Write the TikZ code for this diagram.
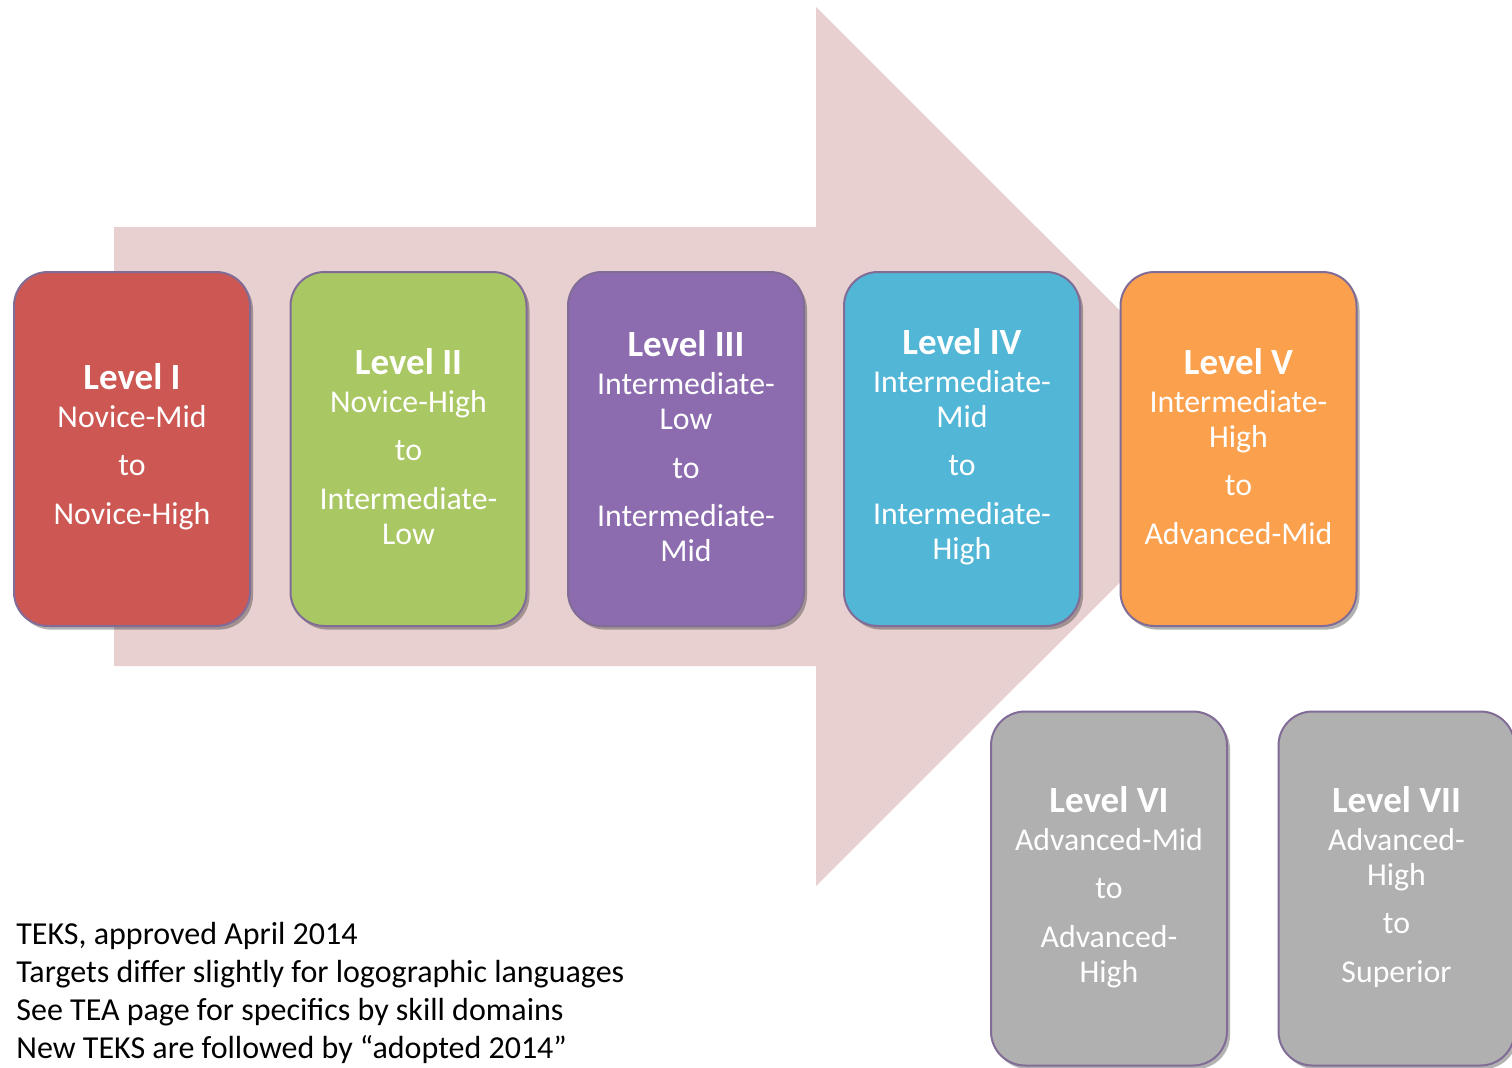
\documentclass[tikz,border=0pt]{standalone}
\usepackage{fontspec}
\setmainfont{Carlito}
\usetikzlibrary{shadows}
\definecolor{arrowc}{RGB}{232,208,208}
\definecolor{cred}{RGB}{205,87,83}
\definecolor{cgreen}{RGB}{169,199,99}
\definecolor{cpurple}{RGB}{140,108,175}
\definecolor{ccyan}{RGB}{82,182,214}
\definecolor{corange}{RGB}{251,160,77}
\definecolor{cgrey}{RGB}{176,176,176}
\definecolor{boxline}{RGB}{128,108,150}
\newcommand\lvltitle[1]{{\fontsize{18.5}{17.5}\selectfont\bfseries #1}}
\begin{document}
\begin{tikzpicture}[x=0.5pt,y=-0.5pt,
  lvlbox/.style={draw=boxline, line width=1pt, rounded corners=17pt,
    minimum width=118pt, minimum height=177pt, inner sep=0pt,
    drop shadow={shadow xshift=1.5pt, shadow yshift=-1.8pt, opacity=0.3, fill=black}},
  lvltext/.style={inner sep=0pt, align=center, text=white,
    font=\fontsize{15.9}{17.5}\selectfont},
  note/.style={anchor=base west, inner sep=0pt, font=\fontsize{16}{19}\selectfont, text=black}
]
\useasboundingbox (0,0) rectangle (1512,1067);
\clip (0,0) rectangle (1512,1067);
\fill[arrowc] (114,227) -- (816,227) -- (816,7) -- (1256,446.5) -- (816,886) -- (816,666) -- (114,666) -- cycle;
\node[lvlbox, fill=cred] (l1) at (132,449) {};
\node[lvlbox, fill=cgreen] (l2) at (408.5,449) {};
\node[lvlbox, fill=cpurple] (l3) at (686,449) {};
\node[lvlbox, fill=ccyan] (l4) at (962,449) {};
\node[lvlbox, fill=corange] (l5) at (1238.5,449) {};
\node[lvlbox, fill=cgrey] (l6) at (1109,888.5) {};
\node[lvlbox, fill=cgrey] (l7) at (1396.5,888.5) {};
\node[lvltext] (t1) at ([yshift=1.2pt]l1.center) {\lvltitle{Level I}\\[1.5pt] Novice-Mid\\[6.75pt] to\\[6.75pt] Novice-High};
\node[lvltext] (t2) at ([yshift=1.2pt]l2.center) {\lvltitle{Level II}\\[1.5pt] Novice-High\\[6.75pt] to\\[6.75pt] Intermediate-\\ Low};
\node[lvltext] (t3) at ([yshift=1.2pt]l3.center) {\lvltitle{Level III}\\[1.5pt] Intermediate-\\ Low\\[6.75pt] to\\[6.75pt] Intermediate-\\ Mid};
\node[lvltext] (t4) at ([yshift=1.2pt]l4.center) {\lvltitle{Level IV}\\[1.5pt] Intermediate-\\ Mid\\[6.75pt] to\\[6.75pt] Intermediate-\\ High};
\node[lvltext] (t5) at ([yshift=1.2pt]l5.center) {\lvltitle{Level V}\\[1.5pt] Intermediate-\\ High\\[6.75pt] to\\[6.75pt] Advanced-Mid};
\node[lvltext] (t6) at ([yshift=0.8pt]l6.center) {\lvltitle{Level VI}\\[1.5pt] Advanced-Mid\\[6.75pt] to\\[6.75pt] Advanced-\\ High};
\node[lvltext] (t7) at ([yshift=0.8pt]l7.center) {\lvltitle{Level VII}\\[1.5pt] Advanced-\\ High\\[6.75pt] to\\[6.75pt] Superior};
\node[note] (n1) at (16,944) {TEKS, approved April 2014};
\node[note] (n2) at (16,982) {Targets differ slightly for logographic languages};
\node[note] (n3) at (16,1020) {See TEA page for specifics by skill domains};
\node[note] (n4) at (16,1058) {New TEKS are followed by “adopted 2014”};
\end{tikzpicture}
\end{document}
